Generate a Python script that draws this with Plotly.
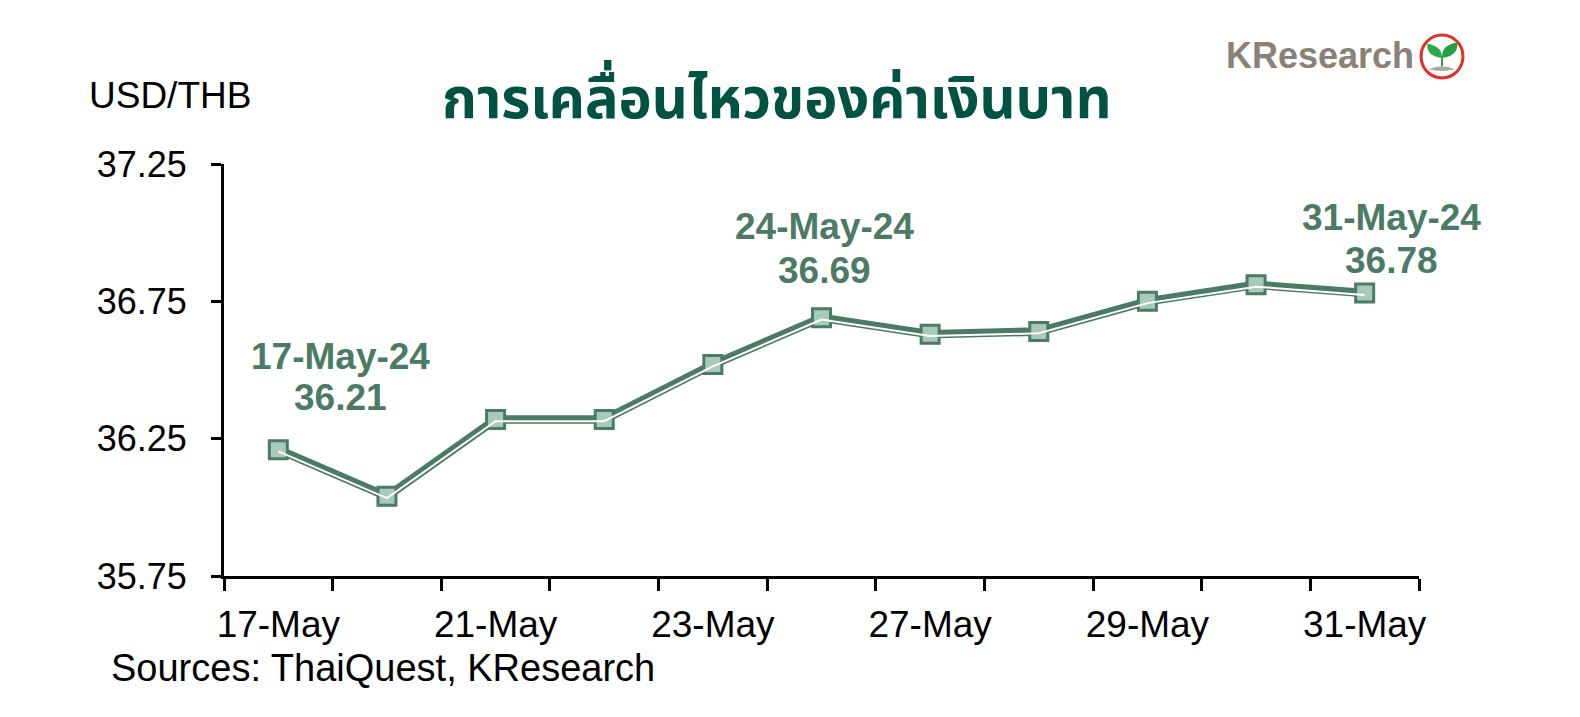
import plotly.graph_objects as go

dates = ["17-May", "20-May", "21-May", "22-May", "23-May", "24-May",
         "27-May", "28-May", "29-May", "30-May", "31-May"]
usd_thb = [36.21, 36.04, 36.32, 36.32, 36.52, 36.69, 36.63, 36.64, 36.75, 36.81, 36.78]
tick_idx = [0, 2, 4, 6, 8, 10]
tick_labels = ["17-May", "21-May", "23-May", "27-May", "29-May", "31-May"]
y_ticks = [35.75, 36.25, 36.75, 37.25]
highlight_idx = [0, 5, 10]
highlight_full = ["17-May-24", "24-May-24", "31-May-24"]

x = list(range(len(dates)))
GREEN = "#4b7b65"
FILL = "#a9c9ba"
TITLE = "#005242"
FONT = "Liberation Sans, Arial, sans-serif"

fig = go.Figure()
fig.add_trace(go.Scatter(x=x, y=usd_thb, mode="lines",
                         line=dict(color=GREEN, width=8.5), hoverinfo="skip",
                         showlegend=False))
# thin white inner stroke (drawn on shifted overlay axis)
fig.add_trace(go.Scatter(x=x, y=usd_thb, mode="lines", yaxis="y2",
                         line=dict(color="white", width=2), hoverinfo="skip",
                         showlegend=False))
fig.add_trace(go.Scatter(x=x, y=usd_thb, mode="markers",
                         marker=dict(symbol="square", size=18, color=FILL,
                                     line=dict(color=GREEN, width=3)),
                         text=dates, showlegend=False))

ymin, ymax = 35.75, 37.25
shift = 0.0065
fig.update_layout(
    width=1572, height=709,
    margin=dict(l=216, r=161, t=156, b=141),
    paper_bgcolor="white", plot_bgcolor="white",
    font=dict(family=FONT, size=36, color="black"),
    xaxis=dict(range=[-0.5, 10.5], tickmode="array", tickvals=tick_idx,
               ticktext=tick_labels, ticks="", showgrid=False, zeroline=False,
               showline=True, linecolor="black", linewidth=3,
               ticklabelstandoff=14,
               tickfont=dict(size=37, family=FONT, color="black"),
               minor=dict(tickmode="array",
                          tickvals=[i - 0.5 for i in range(len(dates) + 1)],
                          ticks="outside", ticklen=12, tickwidth=3,
                          tickcolor="black", showgrid=False)),
    yaxis=dict(range=[ymin, ymax], tickmode="array", tickvals=y_ticks,
               ticktext=[f"{v:.2f}" for v in y_ticks],
               ticks="outside", ticklen=10, tickwidth=3, tickcolor="black",
               showgrid=False, zeroline=False, showline=True,
               linecolor="black", linewidth=3, ticklabelstandoff=17,
               tickfont=dict(size=36, family=FONT, color="black")),
    yaxis2=dict(range=[ymin + shift, ymax + shift], overlaying="y",
                visible=False, showgrid=False, zeroline=False),
)

# title
fig.add_annotation(text="<b>การเคลื่อนไหวของค่าเงินบาท</b>", xref="paper", yref="paper",
                   x=0.462, y=1.153, xanchor="center", yanchor="middle", showarrow=False,
                   font=dict(size=56, color=TITLE,
                             family="Noto Sans Thai, Noto Sans Thai Looped, Loma, Tahoma, Noto Sans, sans-serif"))
# y axis unit
fig.add_annotation(text="USD/THB", xref="paper", yref="paper", x=-0.115, y=1.166,
                   xanchor="left", yanchor="middle", showarrow=False,
                   font=dict(size=37, color="black", family=FONT))
# source
fig.add_annotation(text="Sources: ThaiQuest, KResearch", xref="paper", yref="paper",
                   x=-0.096, y=-0.223, xanchor="left", yanchor="middle", showarrow=False,
                   font=dict(size=38, color="black", family=FONT))

# value labels (date line and value line)
offsets = [(62, 93, 52), (3, 91, 47), (27, 76, 33)]
for i, full, (dx, dy1, dy2) in zip(highlight_idx, highlight_full, offsets):
    fig.add_annotation(x=x[i], y=usd_thb[i], text=f"<b>{full}</b>",
                       xshift=dx, yshift=dy1, showarrow=False,
                       font=dict(size=37, color=GREEN, family=FONT))
    fig.add_annotation(x=x[i], y=usd_thb[i], text=f"<b>{usd_thb[i]:.2f}</b>",
                       xshift=dx, yshift=dy2, showarrow=False,
                       font=dict(size=37, color=GREEN, family=FONT))

# logo
fig.add_annotation(text="<b>KResearch</b>", xref="paper", yref="paper", x=0.9975, y=1.264,
                   xanchor="right", yanchor="middle", showarrow=False,
                   font=dict(size=36, color="#8a8177", family=FONT))
fig.add_shape(type="circle", xref="paper", yref="paper",
              x0=1.0017, x1=1.0368, y0=1.209, y1=1.313,
              line=dict(color="#e03027", width=3), fillcolor="white")
fig.add_shape(type="path", xref="paper", yref="paper",
              path="M 1.008,1.230 Q 1.0192,1.244 1.030,1.230 Q 1.0192,1.222 1.008,1.230 Z",
              fillcolor="#b0aaa2", line=dict(width=0))
fig.add_shape(type="path", xref="paper", yref="paper",
              path="M 1.0185,1.238 L 1.0200,1.238 L 1.0200,1.262 L 1.0185,1.262 Z",
              fillcolor="#1f9a45", line=dict(width=0))
fig.add_shape(type="path", xref="paper", yref="paper",
              path="M 1.0190,1.258 Q 1.006,1.262 1.007,1.292 Q 1.020,1.285 1.0190,1.258 Z",
              fillcolor="#2aa84a", line=dict(width=0))
fig.add_shape(type="path", xref="paper", yref="paper",
              path="M 1.0195,1.258 Q 1.033,1.262 1.032,1.295 Q 1.018,1.288 1.0195,1.258 Z",
              fillcolor="#22a046", line=dict(width=0))

fig.write_html("out.html")
